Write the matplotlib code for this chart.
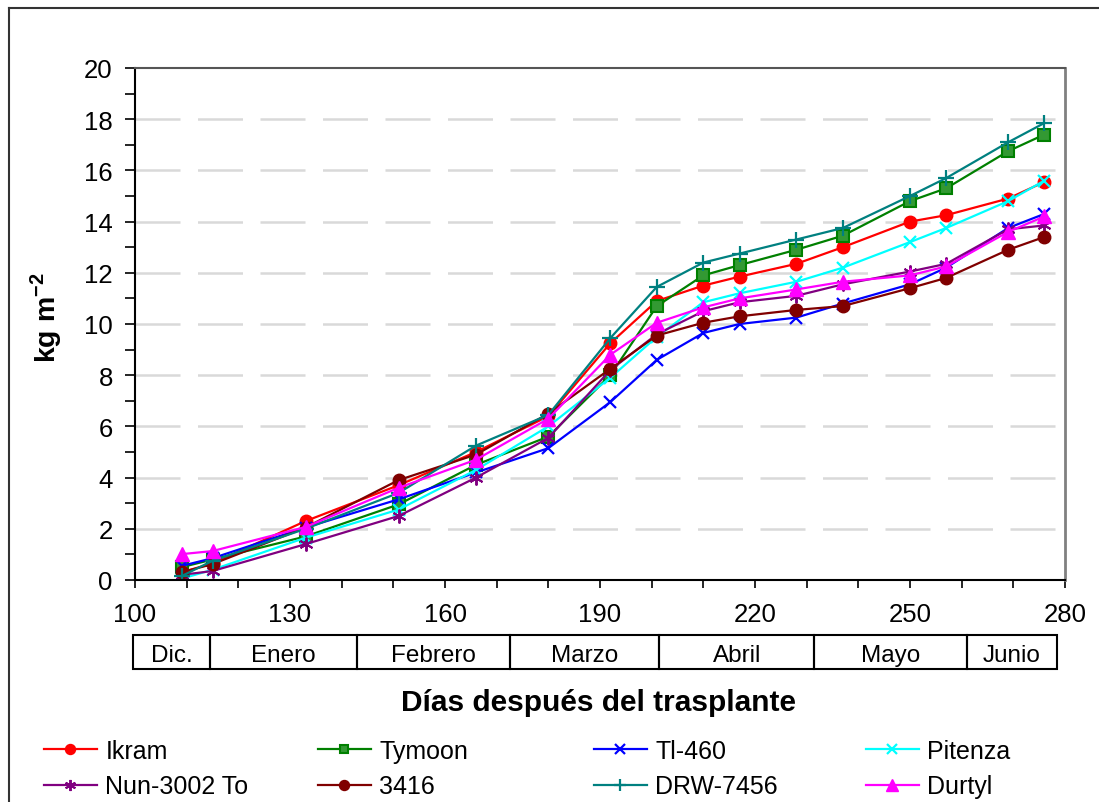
import matplotlib
matplotlib.use("Agg")
import matplotlib.pyplot as plt
from matplotlib.lines import Line2D
from matplotlib.patches import Rectangle
from matplotlib.ticker import MultipleLocator, FixedLocator

plt.rcParams['font.family'] = ['Liberation Sans', 'DejaVu Sans']
plt.rcParams['mathtext.fontset'] = 'custom'
plt.rcParams['mathtext.rm'] = 'Liberation Sans'
plt.rcParams['mathtext.bf'] = 'Liberation Sans:bold'

# days after transplant
days = [109, 115, 133, 151, 166, 180, 192, 201, 210, 217, 228, 237, 250, 257, 269, 276]

ikram = [0.3, 0.65, 2.3, 3.7, 5.0, 6.4, 9.25, 10.9, 11.5, 11.85, 12.35, 13.0, 14.0, 14.25, 14.9, 15.55]
tymoon = [0.5, 0.8, 1.7, 2.95, 4.5, 5.6, 8.0, 10.7, 11.9, 12.3, 12.9, 13.45, 14.8, 15.3, 16.75, 17.4]
tl460 = [0.55, 0.85, 2.05, 3.15, 4.2, 5.15, 6.95, 8.6, 9.65, 10.0, 10.25, 10.8, 11.55, 12.2, 13.75, 14.3]
pitenza = [0.05, 0.4, 1.65, 2.75, 4.3, 6.0, 7.9, 9.5, 10.85, 11.2, 11.65, 12.2, 13.2, 13.75, 14.8, 15.6]
nun3002 = [0.2, 0.35, 1.4, 2.5, 4.0, 5.55, 8.2, 9.6, 10.5, 10.85, 11.1, 11.55, 12.05, 12.35, 13.7, 13.85]
v3416 = [0.3, 0.62, 2.05, 3.9, 4.9, 6.5, 8.25, 9.55, 10.05, 10.3, 10.55, 10.7, 11.4, 11.8, 12.9, 13.4]
drw7456 = [0.15, 0.75, 2.0, 3.4, 5.25, 6.45, 9.45, 11.45, 12.4, 12.75, 13.3, 13.75, 15.0, 15.7, 17.1, 17.85]
durtyl = [1.01, 1.13, 2.07, 3.6, 4.7, 6.3, 8.8, 10.05, 10.65, 11.0, 11.35, 11.65, 11.9, 12.25, 13.6, 14.2]

series_names = ["Ikram", "Tymoon", "Tl-460", "Pitenza", "Nun-3002 To", "3416", "DRW-7456", "Durtyl"]
series_values = [ikram, tymoon, tl460, pitenza, nun3002, v3416, drw7456, durtyl]

x_ticks = [100, 130, 160, 190, 220, 250, 280]

# month band under the x axis (edges in days)
months = ["Dic.", "Enero", "Febrero", "Marzo", "Abril", "Mayo", "Junio"]
month_edges = [99.6, 114.5, 143, 172.5, 201.5, 231.5, 261, 278.5]

styles = {
    "Ikram": dict(color="#FF0000", marker="o", ms=9, mfc="#FF0000", mec="#FF0000"),
    "Tymoon": dict(color="#008000", marker="s", ms=8, mfc="#339933", mec="#008000", mew=1.5),
    "Tl-460": dict(color="#0000FF", marker="x", ms=9, mew=1.6),
    "Pitenza": dict(color="#00FFFF", marker="x", ms=9, mew=1.6),
    "Nun-3002 To": dict(color="#800080", marker=(6, 2, 0), ms=10, mew=1.4),
    "3416": dict(color="#800000", marker="o", ms=9, mfc="#800000", mec="#800000"),
    "DRW-7456": dict(color="#008080", marker="+", ms=11, mew=1.6),
    "Durtyl": dict(color="#FF00FF", marker="^", ms=10, mfc="#FF00FF", mec="#FF00FF"),
}

W, H = 1099, 803
fig = plt.figure(figsize=(W / 100, H / 100), dpi=100)

ax_l, ax_r, ax_t, ax_b = 135, 1065, 69, 581
ax = fig.add_axes([ax_l / W, 1 - ax_b / H, (ax_r - ax_l) / W, (ax_b - ax_t) / H])

handles = []
for name, vals in zip(series_names, series_values):
    st = styles[name]
    ln, = ax.plot(days, vals, lw=1.6, label=name, **st)
    handles.append(ln)

ax.set_xlim(100, 280)
ax.set_ylim(0, 20)
ax.xaxis.set_major_locator(FixedLocator(x_ticks))
ax.xaxis.set_minor_locator(MultipleLocator(10))
ax.yaxis.set_major_locator(MultipleLocator(2))
ax.yaxis.set_minor_locator(MultipleLocator(1))
ax.tick_params(axis="both", which="both", direction="out", width=1.2, colors="black")
ax.tick_params(axis="x", which="both", length=6, labelsize=18.5, pad=10)
ax.tick_params(axis="y", which="both", length=7, labelsize=18.5, pad=9)

for y in range(2, 20, 2):
    ax.axhline(y, color="#D9D9D9", lw=1.8, dashes=(18, 7), zorder=0)

ax.spines["left"].set_linewidth(1.5)
ax.spines["bottom"].set_linewidth(1.5)
ax.spines["top"].set_color("#555555")
ax.spines["right"].set_color("#808080")
ax.spines["top"].set_linewidth(1.5)
ax.spines["right"].set_linewidth(2)

ax.set_ylabel("kg m$^{\\mathbf{-2}}$", fontsize=20.5, fontweight="bold")
ax.yaxis.set_label_coords(-0.076, 0.515)
ax.set_xlabel("Días después del trasplante", fontsize=21.5, fontweight="bold")
ax.xaxis.set_label_coords(0.498, -0.21)

# month table
ax2 = fig.add_axes([ax_l / W, 1 - 670 / H, (ax_r - ax_l) / W, 34 / H])
ax2.set_xlim(100, 280)
ax2.set_ylim(0, 1)
ax2.axis("off")
for i, m in enumerate(months):
    x0, x1 = month_edges[i], month_edges[i + 1]
    ax2.add_patch(Rectangle((x0, 0), x1 - x0, 1, fill=False, ec="black", lw=1.5, clip_on=False))
    ax2.text((x0 + x1) / 2, 0.42, m, ha="center", va="center", fontsize=17.5)

# legend in 4 columns, row-major order
col_x = [44, 318, 594, 866]
for c in range(4):
    hs = [handles[c], handles[c + 4]]
    fig.legend(handles=hs, loc="upper left", bbox_to_anchor=(col_x[c] / W, 1 - 740 / H),
               frameon=False, fontsize=18, handlelength=2.1, handletextpad=0.35,
               labelspacing=0.45, borderpad=0, borderaxespad=0, markerscale=0.8, numpoints=1)

# outer chart frame (top and left edges visible)
fig.add_artist(Line2D([9 / W, 1], [1 - 9 / H, 1 - 9 / H], color="#333333", lw=1.5))
fig.add_artist(Line2D([9 / W, 9 / W], [0, 1 - 9 / H], color="#333333", lw=1.5))

fig.savefig("out.png", dpi=100)
